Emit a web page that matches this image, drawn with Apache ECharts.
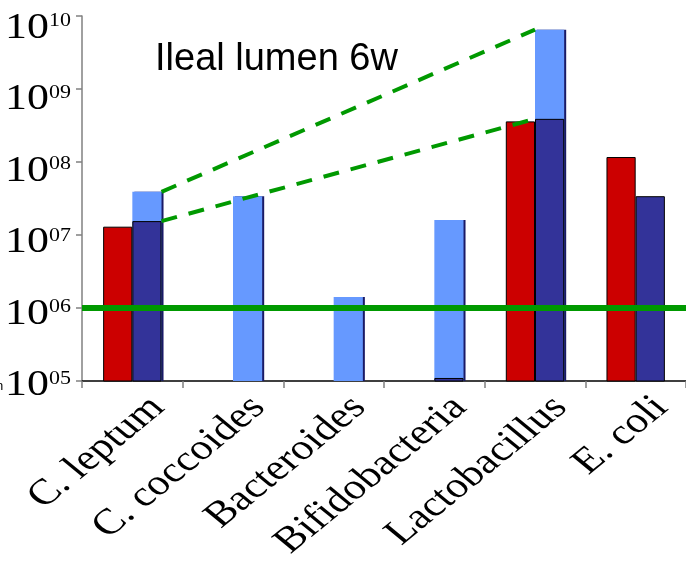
<!DOCTYPE html>
<html>
<head>
<meta charset="utf-8">
<script src="https://cdn.jsdelivr.net/npm/echarts@6/dist/echarts.min.js"></script>
<style>
  html, body { margin: 0; padding: 0; background: #fff; }
  #chart { width: 686px; height: 567px; }
</style>
</head>
<body>
<div id="chart"></div>
<script>
// Bacterial counts in the ileal lumen at 6 weeks (log scale)
const categories = ['C. leptum', 'C. coccoides', 'Bacteroides', 'Bifidobacteria', 'Lactobacillus', 'E. coli'];
const redCounts  = [1.3e7, null, null, null, 3.6e8, 1.17e8];
const navyCounts = [1.55e7, null, null, 1.1e5, 3.9e8, 3.4e7];
const skyCounts  = [3.9e7, 3.4e7, 1.41e6, 1.6e7, 6.5e9, null];
const thresholdCount = 1e6;
const tickExponents = [5, 6, 7, 8, 9, 10];
const trendFrom = 0, trendTo = 4;   // categories joined by the dashed trend lines
const titleText = 'Ileal lumen 6w';

const yMin = Math.pow(10, tickExponents[0]);
const yMax = Math.pow(10, tickExponents[tickExponents.length - 1]);

const BAR_FRACTION = 0.29;          // bar width as a share of one category
const STRETCH_X = 1.22;             // labels are drawn widened horizontally
const GREEN = '#009900';
const SERIF = '"Liberation Serif", "Times New Roman", serif';

const chart = echarts.init(document.getElementById('chart'));

const barWidth = (BAR_FRACTION * 100) + '%';

// trend lines run from the right edge of the first category's blue bar
// to the left edge of the target category's blue bar (in category units)
const trendX0 = trendFrom + 0.5 + BAR_FRACTION;
const trendX1 = trendTo + 0.5;

const option = {
  animation: false,
  backgroundColor: '#fff',
  grid: { left: 82, right: -1, top: 16, bottom: 186, containLabel: false },
  xAxis: [
    {
      type: 'category', data: categories,
      axisLine: { show: true, lineStyle: { color: '#000', width: 1.5 } },
      axisTick: { show: true, length: 7, lineStyle: { color: '#808080', width: 1.5 } },
      axisLabel: { show: false },
      splitLine: { show: false }
    },
    { type: 'category', data: categories, show: false },
    { type: 'value', min: 0, max: categories.length, show: false }
  ],
  yAxis: {
    type: 'log', logBase: 10, min: yMin, max: yMax,
    axisLine: { show: true, lineStyle: { color: '#808080', width: 1.5 } },
    axisTick: { show: true, length: 6, lineStyle: { color: '#808080', width: 1.5 } },
    splitLine: { show: false },
    axisLabel: { show: false }
  },
  series: [
    // light-blue bars occupy the same slot as the dark-blue ones, behind them
    { type: 'bar', xAxisIndex: 1, barWidth: barWidth, barGap: '0%', data: categories.map(() => null), silent: true },
    {
      type: 'bar', xAxisIndex: 1, barWidth: barWidth, barGap: '0%', data: skyCounts, z: 1,
      itemStyle: { color: '#6699ff', shadowColor: '#1a1a66', shadowOffsetX: 2, shadowOffsetY: 0, shadowBlur: 0 }
    },
    {
      type: 'bar', barWidth: barWidth, barGap: '0%', data: redCounts, z: 2,
      itemStyle: { color: '#cc0000', borderColor: '#000', borderWidth: 1 }
    },
    {
      type: 'bar', barWidth: barWidth, barGap: '0%', data: navyCounts, z: 2,
      itemStyle: { color: '#333399', borderColor: '#000', borderWidth: 1 }
    },
    {
      type: 'line', xAxisIndex: 2, z: 5, symbol: 'none', silent: true,
      lineStyle: { color: GREEN, width: 4, type: [16, 12] },
      data: [[trendX0, skyCounts[trendFrom]], [trendX1, skyCounts[trendTo]]]
    },
    {
      type: 'line', xAxisIndex: 2, z: 5, symbol: 'none', silent: true,
      lineStyle: { color: GREEN, width: 4, type: [16, 12] },
      data: [[trendX0, navyCounts[trendFrom]], [trendX1, navyCounts[trendTo]]],
      // detection threshold
      markLine: {
        silent: true, symbol: 'none', label: { show: false },
        lineStyle: { color: GREEN, width: 6, type: 'solid' },
        data: [{ yAxis: thresholdCount }]
      }
    }
  ]
};

chart.setOption(option);

const staticGraphics = [
  {
    type: 'text', left: 155, top: 41, z: 10,
    style: { text: titleText, font: '38px "Liberation Sans", Arial, sans-serif', fill: '#000' }
  },
  {
    type: 'text', x: -4, y: 386, z: 10,
    style: { text: 'n', font: '13px "Liberation Sans"', fill: '#000', textVerticalAlign: 'middle' }
  }
];

// power-of-ten tick labels with superscript exponents
const yLabelGraphics = tickExponents.map(function (e) {
  const ty = chart.convertToPixel({ yAxisIndex: 0 }, Math.pow(10, e));
  return {
    type: 'group', x: 71, y: ty + 5 + 1.5 * (e - tickExponents[0]), scaleX: STRETCH_X, z: 10,
    children: [{
      type: 'text',
      style: {
        text: '{b|10}{s|' + String(e).padStart(2, '0') + '}',
        textAlign: 'right', textVerticalAlign: 'middle',
        rich: {
          b: { fontFamily: SERIF, fontSize: 36, lineHeight: 36, fill: '#000', color: '#000' },
          s: { fontFamily: SERIF, fontSize: 18, lineHeight: 18, verticalAlign: 'top', padding: [2, 0, 0, 0], fill: '#000', color: '#000' }
        }
      }
    }]
  };
});

// rotated category names, ending just right of each category centre
const axisY = chart.convertToPixel({ yAxisIndex: 0 }, yMin);
const xLabelGraphics = categories.map(function (name) {
  const cx = chart.convertToPixel({ xAxisIndex: 0 }, name);
  return {
    type: 'group', x: cx + 41, y: axisY + 34, scaleX: STRETCH_X, z: 10,
    children: [{
      type: 'text', rotation: Math.PI / 4,
      style: { text: name, font: '36px ' + SERIF, fill: '#000', textAlign: 'right', textVerticalAlign: 'bottom' }
    }]
  };
});

chart.setOption({ graphic: staticGraphics.concat(yLabelGraphics, xLabelGraphics) });
</script>
</body>
</html>
